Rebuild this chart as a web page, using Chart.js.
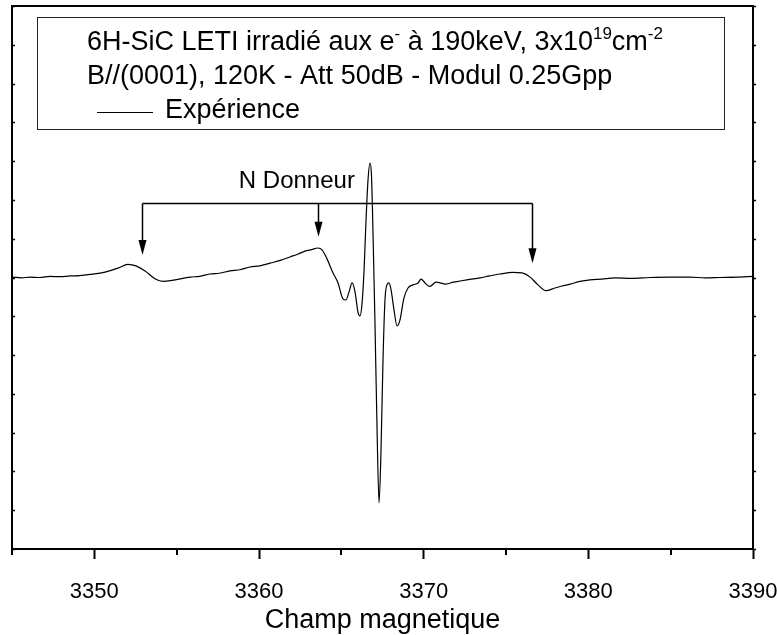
<!DOCTYPE html>
<html><head><meta charset="utf-8">
<script src="https://cdn.jsdelivr.net/npm/chart.js@4.4.1/dist/chart.umd.min.js"></script>
<style>html,body{margin:0;padding:0;background:#fff;} #wrap{width:777px;height:635px;position:relative;}</style>
</head><body><div id="wrap"><canvas id="c" width="777" height="635"></canvas></div>
<script>
// ---- data (magnetic field in G, EPR derivative signal in arbitrary units) ----
const fieldG = [3345.00, 3345.60, 3346.09, 3346.70, 3347.31, 3347.90, 3348.52, 3349.10, 3349.74, 3350.65,
  3351.44, 3352.04, 3352.53, 3353.08, 3353.68, 3354.17, 3354.90, 3355.81, 3356.40, 3357.02,
  3357.60, 3358.24, 3358.85, 3359.45, 3360.05, 3360.67, 3361.30, 3361.88, 3362.35, 3362.79,
  3363.20, 3363.58, 3363.83, 3364.13, 3364.49, 3364.80, 3365.10, 3365.28, 3365.47, 3365.65,
  3365.83, 3366.01, 3366.13, 3366.25, 3366.38, 3366.50, 3366.62, 3366.74, 3366.83, 3366.92,
  3367.04, 3367.17, 3367.29, 3367.41, 3367.53, 3367.65, 3367.77, 3367.89, 3368.02, 3368.20,
  3368.38, 3368.56, 3368.80, 3369.05, 3369.35, 3369.66, 3369.84, 3370.08, 3370.38, 3370.75,
  3371.36, 3371.80, 3372.21, 3372.80, 3373.42, 3374.00, 3374.63, 3375.42, 3375.97, 3376.46,
  3376.94, 3377.43, 3377.97, 3378.40, 3378.89, 3379.50, 3380.10, 3380.80, 3381.62, 3382.60,
  3383.74, 3384.90, 3386.17, 3387.10, 3387.99, 3389.00, 3390.00];
const signal = [0.01, -0.01, 0.01, 0.00, 0.03, 0.02, 0.04, 0.05, 0.08, 0.14,
  0.24, 0.34, 0.30, 0.17, -0.03, -0.10, -0.06, 0.01, 0.03, 0.09,
  0.11, 0.17, 0.20, 0.27, 0.30, 0.37, 0.44, 0.53, 0.60, 0.68,
  0.72, 0.76, 0.71, 0.48, 0.12, -0.14, -0.55, -0.58, -0.37, -0.14,
  -0.37, -0.89, -0.99, -0.71, 0.19, 1.48, 2.51, 2.95, 2.64, 1.22,
  -1.10, -3.93, -5.81, -4.45, -2.13, -0.58, -0.19, -0.14, -0.32, -0.84,
  -1.25, -1.10, -0.53, -0.27, -0.19, -0.14, -0.04, -0.14, -0.23, -0.12,
  -0.17, -0.12, -0.09, -0.05, -0.01, 0.04, 0.09, 0.13, 0.12, 0.01,
  -0.19, -0.34, -0.27, -0.22, -0.17, -0.10, -0.06, -0.04, -0.01, -0.02,
  0.00, 0.01, 0.01, -0.01, 0.00, 0.01, 0.03];
const xTickValues = [3345, 3350, 3355, 3360, 3365, 3370, 3375, 3380, 3385, 3390];
const xLabelValues = [3350, 3360, 3370, 3380, 3390];
const yTickValues = [-7, -6, -5, -4, -3, -2, -1, 0, 1, 2, 3, 4, 5, 6, 7];
const xAxisTitle = 'Champ magnetique';
const seriesName = 'Expérience';
const legendLine1 = [
  {t: '6H-SiC LETI irradié aux e', sup: false}, {t: '-', sup: true},
  {t: ' à 190keV, 3x10', sup: false}, {t: '19', sup: true},
  {t: 'cm', sup: false}, {t: '-2', sup: true}];
const legendLine2 = 'B//(0001), 120K - Att 50dB - Modul 0.25Gpp';
const donorLabel = 'N Donneur';
const donorFields = [3352.9, 3363.6, 3376.6];
const donorTips = [0.58, 1.05, 0.37];
const donorBarLevel = 1.93;
const donorLabelPos = {x: 3362.3, y: 2.47};

const FONT = '"Liberation Sans", Arial, sans-serif';

const decor = {
  id: 'decor',
  afterDraw(chart) {
    const ctx = chart.ctx;
    const a = chart.chartArea;
    const xs = chart.scales.x, ys = chart.scales.y;
    ctx.save();
    ctx.strokeStyle = '#000';
    ctx.fillStyle = '#000';
    // frame
    ctx.lineWidth = 2;
    ctx.strokeRect(a.left, a.top, a.right - a.left, a.bottom - a.top);
    // minor x ticks
    ctx.beginPath();
    xTickValues.forEach(v => {
      if (xLabelValues.includes(v)) return;
      const px = Math.round(xs.getPixelForValue(v));
      ctx.moveTo(px, a.bottom); ctx.lineTo(px, a.bottom + 6);
    });
    ctx.stroke();
    // y ticks (left inside, right outside)
    ctx.beginPath();
    yTickValues.forEach(v => {
      const py = Math.round(ys.getPixelForValue(v)) + 0.5;
      ctx.moveTo(a.left, py); ctx.lineTo(a.left + 3, py);
      ctx.moveTo(a.right, py); ctx.lineTo(a.right + 3, py);
    });
    ctx.lineWidth = 1.5;
    ctx.stroke();

    // legend box
    const bx = a.left + 25, by = a.top + 11, bw = 687, bh = 112;
    ctx.lineWidth = 1;
    ctx.strokeStyle = '#222';
    ctx.strokeRect(bx + 0.5, by + 0.5, bw, bh);
    ctx.fillStyle = '#000';
    ctx.textBaseline = 'alphabetic';
    ctx.textAlign = 'left';
    let x = bx + 50;
    const base1 = by + 33;
    legendLine1.forEach(s => {
      if (s.sup) {
        ctx.font = '17px ' + FONT;
        ctx.fillText(s.t, x, base1 - 11);
      } else {
        ctx.font = '27px ' + FONT;
        ctx.fillText(s.t, x, base1);
      }
      x += ctx.measureText(s.t).width;
    });
    ctx.font = '27px ' + FONT;
    ctx.fillText(legendLine2, bx + 50, by + 67);
    ctx.beginPath();
    ctx.moveTo(bx + 60, by + 95.5); ctx.lineTo(bx + 116, by + 95.5);
    ctx.lineWidth = 1; ctx.strokeStyle = '#000';
    ctx.stroke();
    ctx.fillText(seriesName, bx + 128, by + 101);

    // N donor annotation
    const barY = Math.round(ys.getPixelForValue(donorBarLevel)) + 0.5;
    const xsP = donorFields.map(v => Math.round(xs.getPixelForValue(v)) + 0.5);
    ctx.lineWidth = 1.5;
    ctx.beginPath();
    ctx.moveTo(xsP[0], barY); ctx.lineTo(xsP[2], barY);
    ctx.stroke();
    donorFields.forEach((v, i) => {
      const px = xsP[i];
      const tip = ys.getPixelForValue(donorTips[i]);
      ctx.beginPath();
      ctx.moveTo(px, barY); ctx.lineTo(px, tip - 14);
      ctx.stroke();
      ctx.beginPath();
      ctx.moveTo(px - 4, tip - 15); ctx.lineTo(px + 4, tip - 15); ctx.lineTo(px, tip);
      ctx.closePath();
      ctx.fill();
    });
    ctx.font = '24px ' + FONT;
    ctx.textAlign = 'center';
    ctx.textBaseline = 'middle';
    ctx.fillText(donorLabel, xs.getPixelForValue(donorLabelPos.x), ys.getPixelForValue(donorLabelPos.y));
    ctx.restore();
  }
};

new Chart(document.getElementById('c'), {
  type: 'line',
  data: {
    datasets: [{
      label: seriesName,
      data: fieldG.map((f, i) => ({x: f, y: signal[i]})),
      borderColor: '#000',
      borderWidth: 1.2,
      pointRadius: 0,
      fill: false,
      cubicInterpolationMode: 'monotone'
    }]
  },
  options: {
    responsive: false,
    devicePixelRatio: 1,
    animation: false,
    layout: {padding: {left: 12, right: 24, top: 6, bottom: 0}},
    plugins: {legend: {display: false}, tooltip: {enabled: false}},
    scales: {
      x: {
        type: 'linear', min: 3345, max: 3390,
        afterBuildTicks: s => { s.ticks = xTickValues.map(v => ({value: v})); },
        afterFit: s => { s.height = 86; s.paddingLeft = 0; s.paddingRight = 0; },
        ticks: {
          autoSkip: false, maxRotation: 0, padding: 20, color: '#000',
          font: {family: FONT, size: 22},
          callback: v => xLabelValues.includes(v) ? String(v) : ''
        },
        grid: {
          display: true, drawOnChartArea: false, drawTicks: true, tickLength: 10, tickWidth: 2,
          tickColor: c => (c.tick && xLabelValues.includes(c.tick.value)) ? '#000' : 'rgba(0,0,0,0)'
        },
        border: {display: false},
        title: {display: true, text: xAxisTitle, color: '#000', font: {family: FONT, size: 27}, padding: {top: 0, bottom: -2}}
      },
      y: {
        type: 'linear', min: -7, max: 7,
        afterBuildTicks: s => { s.ticks = yTickValues.map(v => ({value: v})); },
        afterFit: s => { s.width = 0; s.paddingTop = 0; s.paddingBottom = 0; },
        ticks: {display: false},
        grid: {display: false},
        border: {display: false}
      }
    }
  },
  plugins: [decor]
});
</script>
</body></html>
